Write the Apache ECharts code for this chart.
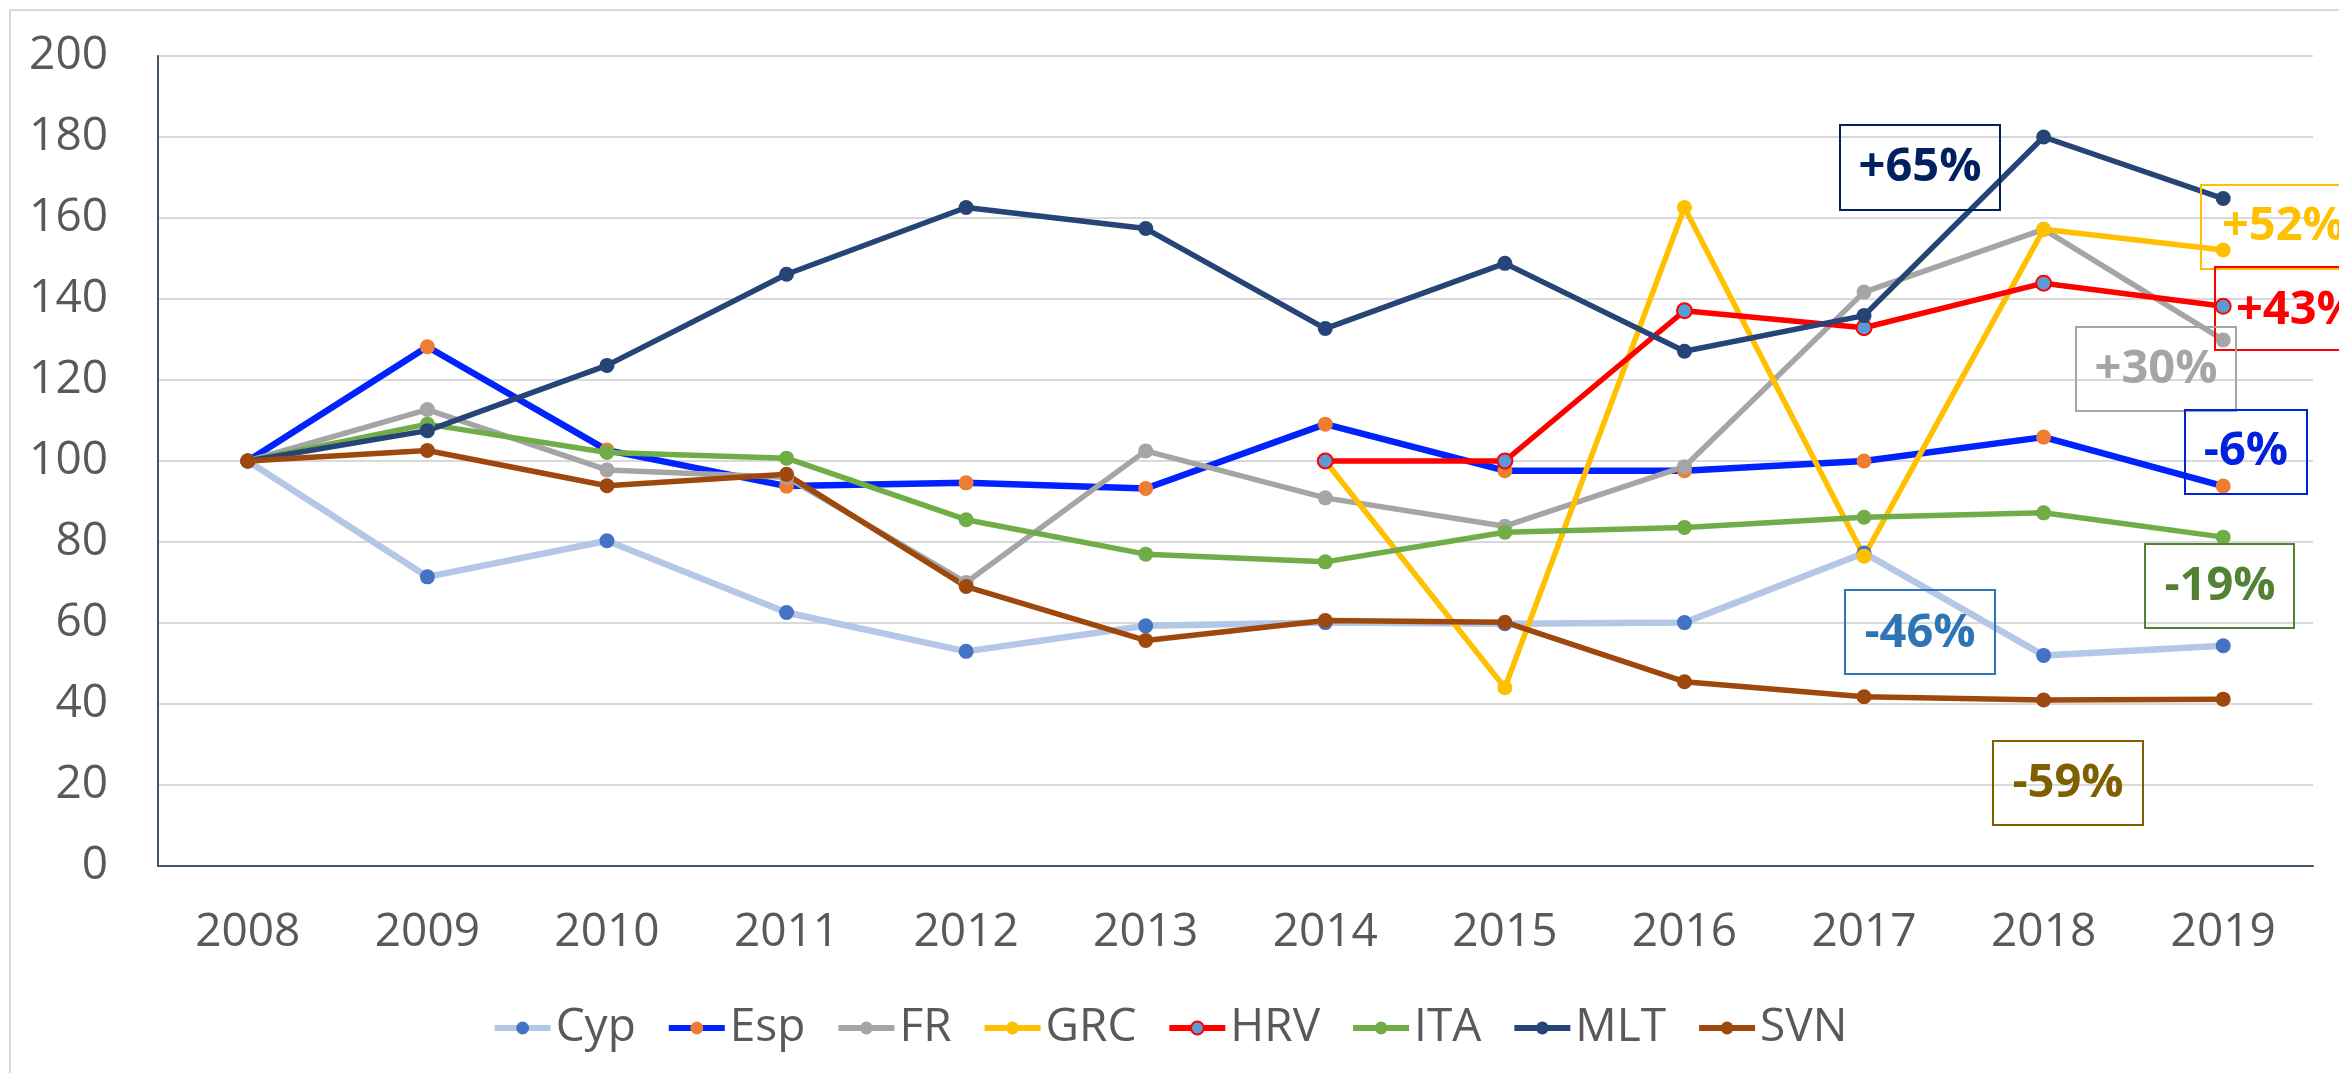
<!DOCTYPE html>
<html>
<head>
<meta charset="utf-8">
<title>Index 2008 = 100</title>
<script src="https://cdn.jsdelivr.net/npm/echarts@6/dist/echarts.min.js"></script>
<style>
  html, body { margin: 0; padding: 0; background: #fff; }
  #chart { width: 2339px; height: 1073px; }
</style>
</head>
<body>
<div id="chart"></div>
<script>
// index, 2008 = 100
const years = ['2008', '2009', '2010', '2011', '2012', '2013', '2014', '2015', '2016', '2017', '2018', '2019'];
const cyp = [100, 71.4, 80.3, 62.6, 53.0, 59.3, 60.1, 59.8, 60.1, 77.3, 52.0, 54.4];
const esp = [100, 128.2, 102.7, 93.8, 94.6, 93.2, 109.1, 97.6, 97.6, 100, 105.9, 93.8];
const fr = [100, 112.7, 97.8, 96.0, 70.0, 102.5, 90.9, 83.9, 98.6, 141.7, 157.2, 129.9];
const grc = [null, null, null, null, null, null, 100, 44.0, 162.6, 76.5, 157.2, 152.1];
const hrv = [null, null, null, null, null, null, 100, 100, 137.1, 132.9, 143.9, 138.2];
const ita = [100, 109.1, 102.1, 100.7, 85.5, 77.0, 75.1, 82.4, 83.6, 86.1, 87.2, 81.2];
const mlt = [100, 107.5, 123.6, 146.1, 162.6, 157.4, 132.7, 148.8, 127.1, 135.9, 180.0, 164.8];
const svn = [100, 102.6, 93.9, 96.7, 69.0, 55.7, 60.6, 60.2, 45.5, 41.8, 41.0, 41.2];

// change 2008 -> 2019 labels
const noteLabels = ['+65%', '+52%', '+43%', '+30%', '-6%', '-19%', '-46%', '-59%'];

const FONT = '"Open Sans", "Noto Sans", sans-serif';

function lineSeries(name, data, lineColor, dotColor, width, dotBorder) {
  return {
    name: name,
    type: 'line',
    data: data,
    symbol: 'circle',
    symbolSize: 15,
    showAllSymbol: true,
    lineStyle: { color: lineColor, width: width },
    itemStyle: {
      color: dotColor,
      borderColor: dotBorder || dotColor,
      borderWidth: dotBorder ? 2 : 0
    },
    emphasis: { disabled: true }
  }
}

// boxes placed by hand like the text boxes of the original sheet
const boxes = [
  { x: 1840, y: 125, w: 160, h: 85, color: '#002060', tx: 1920, ty: 168, align: 'center' },
  { x: 2201, y: 185, w: 200, h: 84, color: '#ffc000', tx: 2222, ty: 227, align: 'left' },
  { x: 2215, y: 267, w: 200, h: 83, color: '#ff0000', tx: 2236, ty: 311, align: 'left' },
  { x: 2076, y: 327, w: 160, h: 84, color: '#a5a5a5', tx: 2156, ty: 370, align: 'center' },
  { x: 2185, y: 410, w: 122, h: 84, color: '#0022dd', tx: 2246, ty: 452, align: 'center' },
  { x: 2145, y: 544, w: 149, h: 84, color: '#548235', tx: 2220, ty: 587, align: 'center' },
  { x: 1845, y: 590, w: 150, h: 84, color: '#2e75b6', tx: 1920, ty: 634, align: 'center' },
  { x: 1993, y: 741, w: 150, h: 84, color: '#7f6000', tx: 2068, ty: 784, align: 'center' }
];

const graphics = [{
  type: 'rect',
  shape: { x: 10, y: 10, width: 2400, height: 1200 },
  style: { fill: 'none', stroke: '#d9d9d9', lineWidth: 2 },
  silent: true,
  z: -1
}];
boxes.forEach((b, i) => {
  graphics.push({
    type: 'rect',
    shape: { x: b.x, y: b.y, width: b.w, height: b.h },
    style: { fill: 'none', stroke: b.color, lineWidth: 2 },
    z: 10
  });
  graphics.push({
    type: 'text',
    x: b.tx,
    y: b.ty,
    style: {
      text: noteLabels[i],
      fill: b.color,
      font: 'bold 47px ' + FONT,
      align: b.align,
      verticalAlign: 'middle'
    },
    z: 11
  });
});

const chart = echarts.init(document.getElementById('chart'));
chart.setOption({
  animation: false,
  backgroundColor: '#fff',
  textStyle: { fontFamily: FONT },
  grid: { left: 158, right: 26, top: 56, bottom: 207, containLabel: false },
  legend: {
    top: 1000,
    left: 'center',
    itemWidth: 56,
    itemHeight: 16,
    itemGap: 30,
    lineStyle: { width: 6 },
    textStyle: { fontSize: 46, color: '#595959', fontFamily: FONT },
    data: ['Cyp', 'Esp', 'FR', 'GRC', 'HRV', 'ITA', 'MLT', 'SVN']
  },
  xAxis: {
    type: 'category',
    data: years,
    boundaryGap: true,
    axisTick: { show: false },
    axisLine: { lineStyle: { color: '#44546a', width: 2 } },
    axisLabel: { fontSize: 46, color: '#595959', margin: 44, fontFamily: FONT }
  },
  yAxis: {
    type: 'value',
    min: 0,
    max: 200,
    interval: 20,
    axisLine: { show: true, lineStyle: { color: '#44546a', width: 2 } },
    axisTick: { show: false },
    splitLine: { lineStyle: { color: '#d9d9d9', width: 2 } },
    axisLabel: { fontSize: 46, color: '#595959', margin: 50, fontFamily: FONT }
  },
  series: [
    lineSeries('Cyp', cyp, '#b4c7e7', '#4472c4', 6.5),
    lineSeries('Esp', esp, '#0022ff', '#ed7d31', 6.5),
    lineSeries('FR', fr, '#a5a5a5', '#a5a5a5', 5.5),
    lineSeries('GRC', grc, '#ffc000', '#ffc000', 5.5),
    lineSeries('HRV', hrv, '#ff0000', '#5b9bd5', 5.5, '#ff0000'),
    lineSeries('ITA', ita, '#70ad47', '#70ad47', 5.5),
    lineSeries('MLT', mlt, '#264478', '#264478', 5.5),
    lineSeries('SVN', svn, '#9e480e', '#9e480e', 5.5)
  ],
  graphic: graphics
});
</script>
</body>
</html>
